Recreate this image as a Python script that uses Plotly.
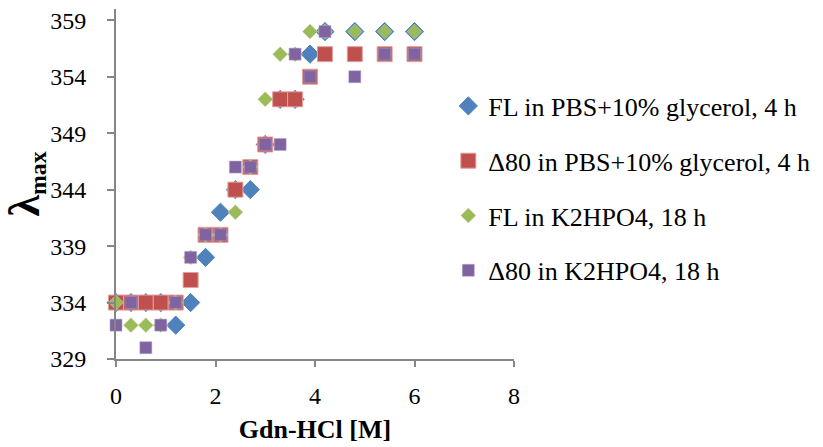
import plotly.graph_objects as go

gdn = [0, 0.3, 0.6, 0.9, 1.2, 1.5, 1.8, 2.1, 2.4, 2.7, 3.0, 3.3, 3.6, 3.9, 4.2, 4.8, 5.4, 6.0]

fl_pbs = [334, 334, 334, 334, 332, 334, 338, 342, 344, 344, 348, 352, 352, 356, 358, 358, 358, 358]
d80_pbs = [334, 334, 334, 334, 334, 336, 340, 340, 344, 346, 348, 352, 352, 354, 356, 356, 356, 356]
fl_k2 = [334, 332, 332, 332, 334, 338, 340, 340, 342, 346, 352, 356, 356, 358, 358, 358, 358, 358]
d80_k2 = [332, 334, 330, 332, 334, 338, 340, 340, 346, 346, 348, 348, 356, 354, 358, 354, 356, 356]

names = ["FL in PBS+10% glycerol, 4 h", "Δ80 in PBS+10% glycerol, 4 h",
         "FL in K2HPO4, 18 h", "Δ80 in K2HPO4, 18 h"]

series = [
    (fl_pbs, dict(symbol="diamond", size=14, color="#4F81BD", line=dict(color="#4F81BD", width=1))),
    (d80_pbs, dict(symbol="square", size=15, color="#C0504D", line=dict(color="#E0A09E", width=1))),
    (fl_k2, dict(symbol="diamond", size=11.5, color="#9BBB59", line=dict(color="#C4D79B", width=0.5))),
    (d80_k2, dict(symbol="square", size=12, color="#8064A2", line=dict(color="#B3A2C7", width=0.5))),
]

FAM = "Liberation Serif, Times New Roman, serif"

fig = go.Figure()
for i, (vals, mk) in enumerate(series):
    fig.add_trace(go.Scatter(x=gdn, y=vals, mode="markers", name=names[i], marker=mk,
                             cliponaxis=False, legendgroup=str(i)))

axis_font = dict(family=FAM, size=24, color="black")
fig.update_xaxes(range=[0, 8], tick0=0, dtick=2, showgrid=False, zeroline=False,
                 showline=True, linecolor="#868686", linewidth=2,
                 ticks="outside", ticklen=6, tickwidth=2, tickcolor="#868686",
                 tickfont=axis_font, ticklabelstandoff=8,
                 title=dict(text="<b>Gdn-HCl [M]</b>",
                            font=dict(family=FAM, size=26, color="black"),
                            standoff=12))
fig.update_yaxes(range=[329, 360], tick0=329, dtick=5, showgrid=False, zeroline=False,
                 showline=True, linecolor="#868686", linewidth=2,
                 ticks="outside", ticklen=7, tickwidth=2, tickcolor="#868686",
                 tickfont=axis_font, ticklabelstandoff=16,
                 title=dict(text="<b><span style='font-size:44px'>λ</span><sub>max</sub></b>",
                            font=dict(family=FAM, size=34, color="black"),
                            standoff=12))

fig.update_layout(
    width=823, height=447,
    margin=dict(l=116, r=308, t=8, b=86),
    plot_bgcolor="white", paper_bgcolor="white",
    font=dict(family=FAM),
    legend=dict(x=0.835, y=0.79, xanchor="left", yanchor="top",
                font=dict(family=FAM, size=26, color="black"),
                tracegroupgap=18, bgcolor="rgba(0,0,0,0)"),
)

fig.write_html("out.html")
